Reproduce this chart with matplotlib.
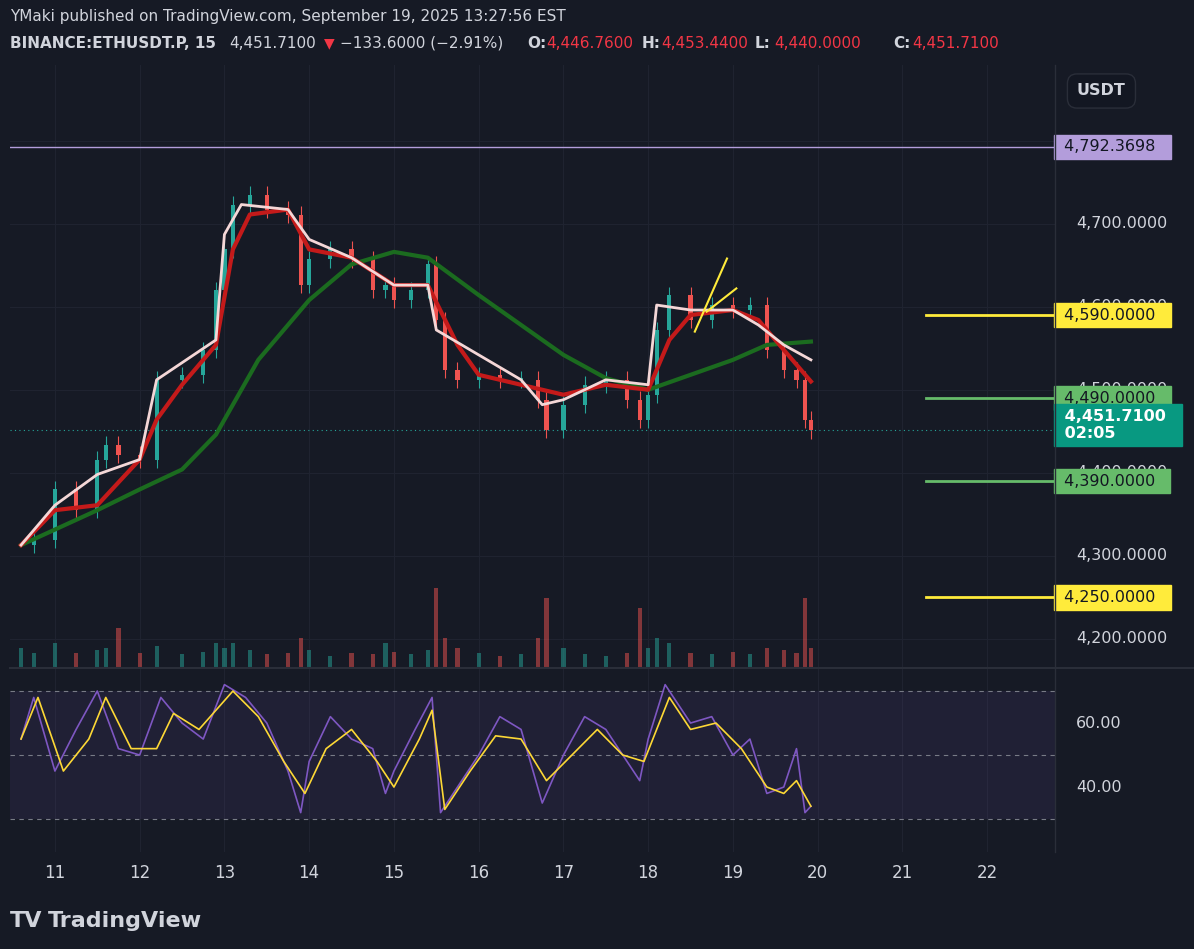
import matplotlib
matplotlib.use("Agg")
import matplotlib.pyplot as plt
from matplotlib.transforms import blended_transform_factory as btf

# ---------------- data ----------------
price_t = [10.6,10.75,11.0,11.25,11.5,11.6,11.75,12.0,12.2,12.5,12.75,12.9,13.0,13.1,13.3,13.5,13.75,13.9,
           14.0,14.25,14.5,14.75,14.9,15.0,15.2,15.4,15.5,15.6,15.75,16.0,16.25,16.5,16.7,16.8,17.0,17.25,
           17.5,17.75,17.9,18.0,18.1,18.25,18.5,18.75,19.0,19.2,19.4,19.6,19.75,19.85,19.92]
price_c = [4313,4319,4380,4355,4416,4434,4422,4416,4512,4518,4548,4620,4669,4723,4735,4717,4711,4626,
           4657,4669,4657,4620,4626,4608,4620,4651,4584,4524,4512,4518,4512,4512,4488,4452,4482,4506,
           4512,4488,4464,4494,4572,4614,4584,4602,4596,4602,4548,4524,4512,4464,4451]
volume   = [20,15,25,15,18,20,40,15,22,14,16,25,20,25,18,14,15,30,
            18,12,15,14,25,16,14,18,80,30,20,15,12,14,30,70,20,14,
            12,15,60,20,30,25,15,14,16,14,20,18,15,70,20]

green_t = [10.6,11.5,12.0,12.5,12.9,13.4,14.0,14.5,15.0,15.4,16.0,16.5,17.0,17.5,18.0,18.5,19.0,19.4,19.92]
green_v = [4313,4355,4380,4404,4446,4536,4608,4651,4666,4659,4614,4578,4542,4514,4500,4518,4536,4554,4558]
red_t = [10.6,11.0,11.5,12.0,12.2,12.5,12.9,13.1,13.3,13.75,14.0,14.5,15.0,15.4,15.75,16.0,16.5,17.0,17.5,
         18.0,18.25,18.5,19.0,19.3,19.6,19.92]
red_v = [4313,4355,4361,4416,4464,4506,4554,4669,4711,4717,4669,4659,4626,4626,4554,4518,4506,4494,4506,
         4500,4560,4590,4596,4584,4548,4510]
white_t = [10.6,11.0,11.5,12.0,12.2,12.9,13.0,13.2,13.75,14.0,14.5,15.0,15.4,15.5,16.0,16.5,16.75,17.0,17.5,
           18.0,18.1,18.5,19.0,19.3,19.6,19.92]
white_v = [4313,4361,4398,4416,4512,4560,4687,4723,4717,4681,4659,4626,4626,4572,4542,4512,4482,4488,4512,
           4506,4602,4596,4596,4578,4554,4536]

rsi_t = [10.6,10.75,11.0,11.25,11.5,11.75,12.0,12.25,12.5,12.75,13.0,13.25,13.5,13.75,13.9,14.0,14.25,14.5,
         14.75,14.9,15.0,15.25,15.45,15.55,15.75,16.0,16.25,16.5,16.75,17.0,17.25,17.5,17.75,17.9,18.0,18.2,
         18.5,18.75,19.0,19.2,19.4,19.6,19.75,19.85,19.92]
rsi_v = [55,68,45,58,70,52,50,68,60,55,72,68,60,45,32,48,62,55,52,38,45,58,68,32,40,50,62,58,35,50,62,58,
         48,42,55,72,60,62,50,55,38,40,52,32,34]
rsima_t = [10.6,10.8,11.1,11.4,11.6,11.9,12.2,12.4,12.7,13.1,13.4,13.7,13.95,14.2,14.5,14.8,15.0,15.3,15.45,
           15.6,15.9,16.2,16.5,16.8,17.1,17.4,17.7,17.95,18.25,18.5,18.8,19.1,19.4,19.6,19.75,19.92]
rsima_v = [55,68,45,55,68,52,52,63,58,70,62,48,38,52,58,48,40,55,64,33,45,56,55,42,50,58,50,48,68,58,60,52,
           40,38,42,34]

hlines = [(4590, "#ffeb3b"), (4490, "#66bb6a"), (4390, "#66bb6a"), (4250, "#ffeb3b")]
top_line = 4792.3698
last_price = 4451.71
price_ticks = [4700, 4600, 4500, 4400, 4300, 4200]
day_ticks = list(range(11, 23))
rsi_ticks = [60, 40]

# ---------------- figure ----------------
BG = "#161a25"
W, H = 1194, 949
fig = plt.figure(figsize=(W/100, H/100), dpi=100, facecolor=BG)

def ax_rect(x0, y0, x1, y1):
    return [x0/W, 1-y1/H, (x1-x0)/W, (y1-y0)/H]

ax = fig.add_axes(ax_rect(10, 65, 1055, 668), facecolor=BG)
rax = fig.add_axes(ax_rect(10, 668, 1055, 852), facecolor=BG, sharex=ax)
vax = ax.twinx()
for a in (ax, rax, vax):
    for s in a.spines.values():
        s.set_visible(False)
    a.tick_params(left=False, right=False, bottom=False, labelleft=False, labelright=False, labelbottom=False)

xmin, xmax = 10.47, 22.8
ax.set_xlim(xmin, xmax)
ax.set_ylim(4165, 4891)
rax.set_ylim(19.7, 77.2)
vax.set_ylim(0, 600)

gridc = "#1f2330"
for p in [4200, 4300, 4400, 4500, 4600, 4700, 4800]:
    ax.axhline(p, color=gridc, lw=0.8, zorder=0)
for d in day_ticks:
    ax.axvline(d, color=gridc, lw=0.8, zorder=0)
    rax.axvline(d, color=gridc, lw=0.8, zorder=0)

# volume
for i, t in enumerate(price_t):
    up = i == 0 or price_c[i] >= price_c[i-1]
    vax.bar(t, volume[i], width=0.05, color="#26a69a" if up else "#ef5350", alpha=0.5, zorder=1)

# candles
for i in range(1, len(price_t)):
    o, c = price_c[i-1], price_c[i]
    col = "#26a69a" if c >= o else "#ef5350"
    ax.bar(price_t[i], max(abs(c-o), 2), bottom=min(o, c), width=0.05, color=col, zorder=2)
    ax.vlines(price_t[i], min(o, c)-10, max(o, c)+10, color=col, lw=0.8, zorder=2)

ax.plot(green_t, green_v, color="#1b6b1f", lw=3, zorder=3)
ax.plot(red_t, red_v, color="#c41a1a", lw=3, zorder=4)
ax.plot(white_t, white_v, color="#f4d7d7", lw=2, zorder=5)

ax.axhline(top_line, color="#b39ddb", lw=1)
ax.axhline(last_price, color="#26a69a", lw=0.8, ls=(0, (1, 3)))
xs_line = 21.28
for p, c in hlines:
    ax.plot([xs_line, xmax], [p, p], color=c, lw=2)

# yellow trend drawing
ax.plot([18.55, 18.93], [4570, 4658], color="#ffeb3b", lw=1.5, zorder=6)
ax.plot([18.69, 19.04], [4594, 4622], color="#ffeb3b", lw=1.5, zorder=6)

# right price axis labels
tr = btf(ax.transAxes, ax.transData)
for p in price_ticks:
    ax.text(1.02, p, f"{p:,.4f}", transform=tr, color="#d1d4dc", fontsize=11.5, va="center", ha="left",
            clip_on=False, zorder=1)
def tag(p, txt, fc):
    ax.text(1.004, p, txt, transform=tr, color="#131722", fontsize=11.5, va="center", ha="left", clip_on=False,
            bbox=dict(boxstyle="square,pad=0.3", fc=fc, ec=fc), zorder=10)
tag(top_line, " 4,792.3698  ", "#b39ddb")
for p, c in hlines:
    tag(p, f" {p:,.4f}  ", c)
ax.text(1.004, last_price+6, " 4,451.7100  \n 02:05           ", transform=tr, color="white", fontsize=11.5,
        va="center", ha="left", clip_on=False, fontweight="bold",
        bbox=dict(boxstyle="square,pad=0.3", fc="#089981", ec="#089981"), zorder=10)

# RSI pane
rax.axhspan(30, 70, color="#7e57c2", alpha=0.1, lw=0)
for lv in (70, 50, 30):
    rax.axhline(lv, color="#787b86", lw=0.8, ls=(0, (4, 4)))
rax.plot(rsi_t, rsi_v, color="#7e57c2", lw=1.2)
rax.plot(rsima_t, rsima_v, color="#fdd835", lw=1.2)
rtr = btf(rax.transAxes, rax.transData)
for v in rsi_ticks:
    rax.text(1.02, v, f"{v:.2f}", transform=rtr, color="#d1d4dc", fontsize=11.5, va="center", clip_on=False)

# separators / day labels
fig.add_artist(plt.Line2D([10/W, 1], [1-668/H]*2, color="#2a2e39", lw=1.5))
fig.add_artist(plt.Line2D([1055/W]*2, [1-852/H, 1-65/H], color="#2a2e39", lw=1))
xtr = btf(rax.transData, fig.transFigure)
for d in day_ticks:
    rax.text(d, 1-873/H, str(d), transform=xtr, color="#d1d4dc", fontsize=12, ha="center", va="center")

# header
fs = 11
fig.text(10/W, 1-17/H, "YMaki published on TradingView.com, September 19, 2025 13:27:56 EST",
         color="#d1d4dc", fontsize=fs, va="center")
yh = 1-43/H
fig.text(10/W, yh, "BINANCE:ETHUSDT.P, 15", color="#d1d4dc", fontsize=fs, fontweight="bold", va="center")
fig.text(229/W, yh, "4,451.7100", color="#d1d4dc", fontsize=fs, va="center")
fig.text(324/W, yh, "\u25bc", color="#f23645", fontsize=10, va="center")
fig.text(340/W, yh, "\u2212133.6000 (\u22122.91%)", color="#d1d4dc", fontsize=fs, va="center")
for x, lab, val in [(527, "O:", "4,446.7600"), (642, "H:", "4,453.4400"),
                    (755, "L:", "4,440.0000"), (893, "C:", "4,451.7100")]:
    fig.text(x/W, yh, lab, color="#d1d4dc", fontsize=fs, fontweight="bold", va="center")
    fig.text((x+19)/W, yh, val, color="#f23645", fontsize=fs, va="center")
fig.text(1077/W, 1-91/H, "USDT", color="#d1d4dc", fontsize=11.5, fontweight="bold", va="center",
         bbox=dict(boxstyle="round,pad=0.6", fc="#131722", ec="#2a2e39"))
fig.text(10/W, 1-921/H, "TV", color="#d1d4dc", fontsize=16, fontweight="bold", va="center")
fig.text(48/W, 1-921/H, "TradingView", color="#d1d4dc", fontsize=16, fontweight="bold", va="center")

fig.savefig("out.png", dpi=100, facecolor=BG)
